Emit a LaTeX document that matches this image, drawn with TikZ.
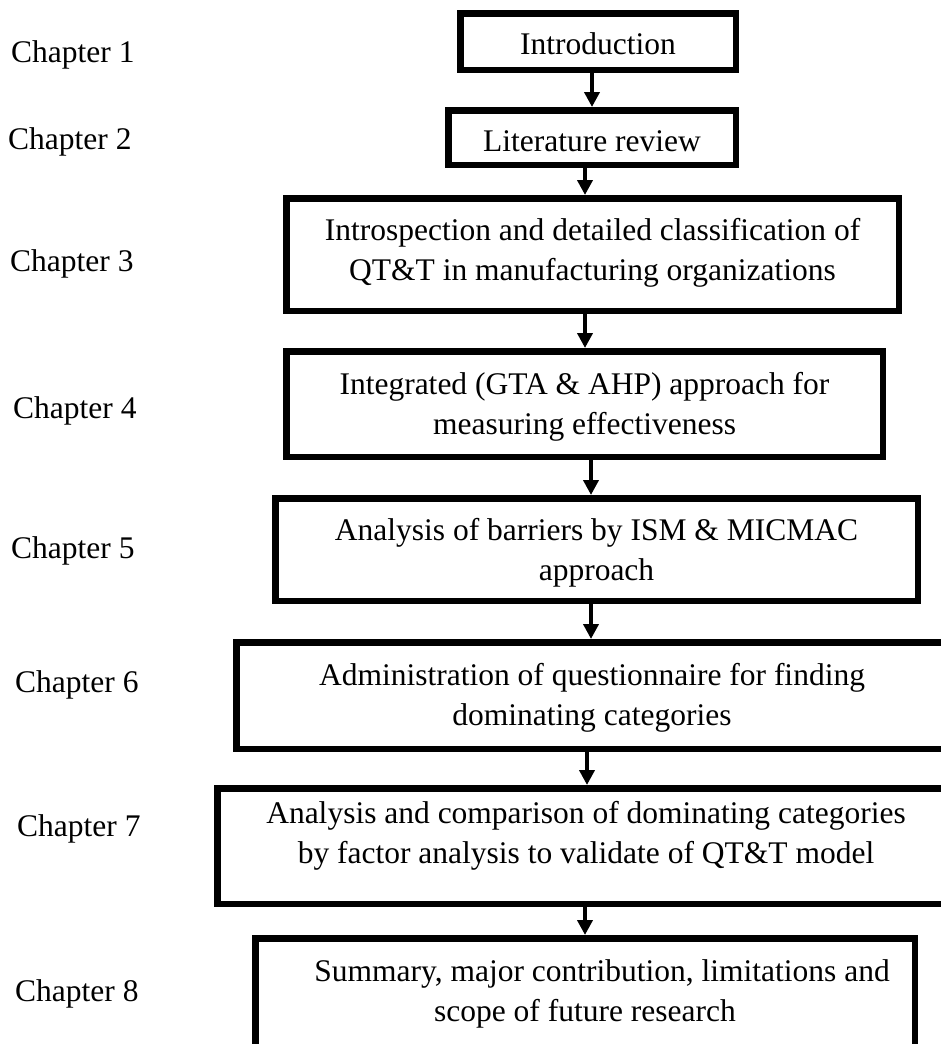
\documentclass[tikz,border=0pt]{standalone}
\usepackage{fontspec}
\setmainfont{Liberation Serif}
\usetikzlibrary{arrows.meta}

% centred block of lines, optionally lifted inside its box
\newcommand{\boxlines}[2][0pt]{\raisebox{#1}[\height][\depth]{\begin{tabular}{@{}c@{}}#2\end{tabular}}}

\begin{document}
\begin{tikzpicture}[x=1pt,y=-1pt,
  every node/.style={font=\fontsize{31.5}{40}\selectfont},
  stepbox/.style={draw=black, line width=6.5pt, inner sep=0pt},
  flow/.style={line width=4pt, -{Triangle[length=15pt,width=15pt]}},
  chap/.style={anchor=base west, inner sep=0pt}]

\useasboundingbox (0,0) rectangle (941,1044);
\clip (0,0) rectangle (941,1044);

% chapter labels
\node[chap] (c1) at (11,62)   {Chapter 1};
\node[chap] (c2) at (8,149)   {Chapter 2};
\node[chap] (c3) at (10,271)  {Chapter 3};
\node[chap] (c4) at (13,418)  {Chapter 4};
\node[chap] (c5) at (11,558)  {Chapter 5};
\node[chap] (c6) at (15,692)  {Chapter 6};
\node[chap] (c7) at (17,836)  {Chapter 7};
\node[chap] (c8) at (15,1001) {Chapter 8};

% chapter boxes
\node[stepbox, minimum width=275.5pt, minimum height=56.5pt] (b1) at (598,41.5)
  {\boxlines[-5pt]{Introduction}};
\node[stepbox, minimum width=287.5pt, minimum height=54.5pt] (b2) at (592,137.5)
  {\boxlines[-6pt]{Literature review}};
\node[stepbox, minimum width=612.5pt, minimum height=112.5pt] (b3) at (592.5,254.5)
  {\boxlines[2.5pt]{Introspection and detailed classification of\\QT\&T in manufacturing organizations}};
\node[stepbox, minimum width=596.5pt, minimum height=105.5pt] (b4) at (584.5,404)
  {\boxlines[-2pt]{Integrated (GTA \& AHP) approach for\\measuring effectiveness}};
\node[stepbox, minimum width=642.5pt, minimum height=102.5pt] (b5) at (596.5,549.5)
  {\boxlines[-3pt]{Analysis of barriers by ISM \& MICMAC\\approach}};
\node[stepbox, minimum width=711.5pt, minimum height=106.5pt] (b6) at (592,695.5)
  {\boxlines[-2pt]{Administration of questionnaire for finding\\dominating categories}};
\node[stepbox, minimum width=737.5pt, minimum height=115.5pt] (b7) at (586,846)
  {\boxlines[10.5pt]{Analysis and comparison of dominating categories\\by factor analysis to validate of QT\&T model}};
\node[stepbox, minimum width=659.5pt, minimum height=118.5pt] (b8) at (585,997.5)
  {\boxlines[4.5pt]{\hspace{34pt}Summary, major contribution, limitations and\\scope of future research}};

% connectors
\draw[flow] (b1.south -| 592,0) -- (b2.north -| 592,0);
\draw[flow] (b2.south -| 585,0) -- (b3.north -| 585,0);
\draw[flow] (b3.south -| 585,0) -- (b4.north -| 585,0);
\draw[flow] (b4.south -| 591,0) -- (b5.north -| 591,0);
\draw[flow] (b5.south -| 591,0) -- (b6.north -| 591,0);
\draw[flow] (b6.south -| 587,0) -- (b7.north -| 587,0);
\draw[flow] (b7.south -| 585,0) -- (b8.north -| 585,0);

\end{tikzpicture}
\end{document}
